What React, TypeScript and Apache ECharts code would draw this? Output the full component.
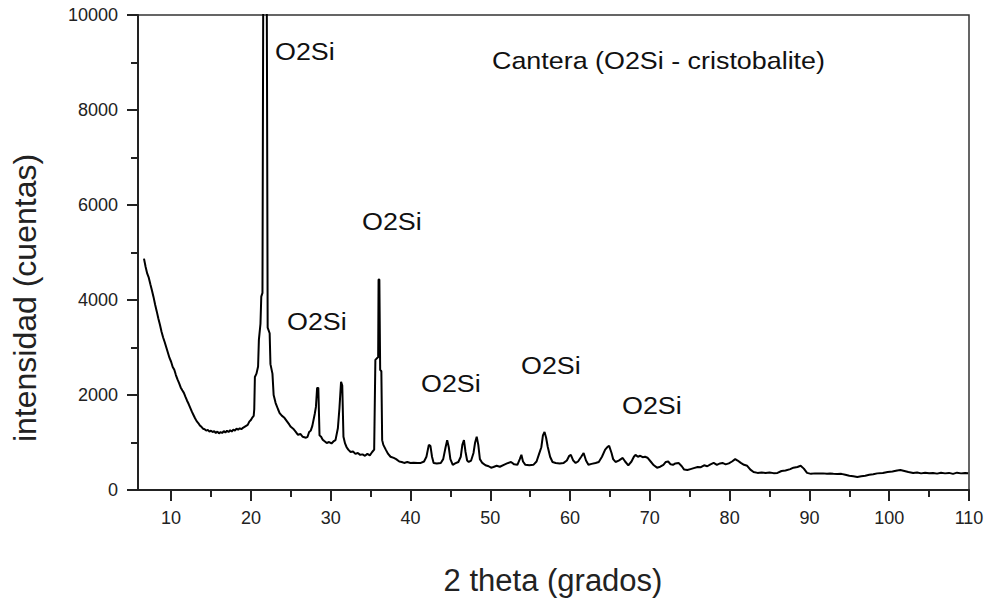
import React, { useEffect, useRef } from "react";
import * as echarts from "echarts";

const twoTheta: number[] = [
  6.6, 6.8, 7.0, 7.2, 7.4, 7.6, 7.8, 8.0, 8.2, 8.4, 8.6, 8.8, 9.0, 9.2, 9.4, 9.6, 9.8,
  10.0, 10.2, 10.4, 10.6, 10.8, 11.0, 11.2, 11.4, 11.6, 11.8, 12.0, 12.2, 12.4, 12.6, 12.8,
  13.0, 13.2, 13.4, 13.6, 13.8, 14.0, 14.2, 14.4, 14.6, 14.8, 15.0, 15.2, 15.4, 15.6, 15.8,
  16.0, 16.2, 16.4, 16.6, 16.8, 17.0, 17.2, 17.4, 17.6, 17.8, 18.0, 18.2, 18.4, 18.6, 18.8,
  19.0, 19.2, 19.4, 19.6, 19.8, 20.0, 20.2, 20.35, 20.42, 20.5, 20.7, 20.9, 21.0, 21.2, 21.3,
  21.45, 21.57, 21.75, 21.95, 22.02, 22.1, 22.35, 22.45, 22.7, 22.85, 23.1, 23.4, 23.6, 23.9,
  24.2, 24.5, 24.8, 25.0, 25.3, 25.6, 25.9, 26.2, 26.5, 26.9, 27.1, 27.3, 27.5, 27.7, 28.0,
  28.15, 28.3, 28.45, 28.6, 28.8, 29.0, 29.2, 29.5, 29.8, 30.1, 30.4, 30.6, 30.9, 31.1, 31.3,
  31.45, 31.6, 31.8, 32.0, 32.2, 32.5, 32.8, 33.1, 33.4, 33.7, 34.0, 34.3, 34.6, 34.9, 35.2,
  35.45, 35.6, 35.95, 36.0, 36.1, 36.2, 36.35, 36.45, 36.6, 36.9, 37.2, 37.5, 37.9, 38.2,
  38.6, 38.9, 39.2, 39.6, 40.0, 40.4, 40.9, 41.3, 41.7, 42.0, 42.3, 42.5, 42.7, 42.9, 43.3,
  43.8, 44.1, 44.4, 44.6, 44.8, 45.0, 45.3, 45.6, 46.0, 46.3, 46.5, 46.7, 46.9, 47.1, 47.3,
  47.6, 47.9, 48.1, 48.3, 48.5, 48.7, 49.0, 49.4, 49.8, 50.1, 50.4, 50.8, 51.2, 51.7, 52.1,
  52.6, 53.0, 53.4, 53.7, 53.9, 54.1, 54.4, 54.9, 55.4, 55.8, 56.1, 56.4, 56.6, 56.8, 57.0,
  57.2, 57.5, 57.8, 58.2, 58.7, 59.2, 59.6, 59.9, 60.1, 60.4, 60.7, 61.0, 61.4, 61.7, 62.0,
  62.3, 62.7, 63.2, 63.6, 64.0, 64.4, 64.7, 64.9, 65.2, 65.4, 65.7, 66.1, 66.6, 66.9, 67.3,
  67.7, 68.0, 68.2, 68.5, 68.8, 69.1, 69.4, 69.7, 70.1, 70.5, 70.9, 71.3, 71.7, 72.0, 72.3,
  72.6, 72.9, 73.2, 73.6, 74.0, 74.3, 74.7, 75.1, 75.5, 76.0, 76.4, 76.8, 77.2, 77.6, 78.0,
  78.4, 78.8, 79.1, 79.5, 79.9, 80.3, 80.7, 81.0, 81.4, 81.8, 82.2, 82.6, 83.0, 83.5, 84.0,
  84.5, 85.0, 85.5, 86.0, 86.5, 87.0, 87.6, 88.0, 88.5, 88.9, 89.3, 89.7, 90.2, 90.7, 91.2,
  91.7, 92.2, 92.6, 93.0, 93.5, 94.0, 94.5, 95.0, 95.5, 96.0, 96.5, 97.0, 97.5, 98.0, 98.5,
  99.2, 99.8, 100.4, 101.0, 101.4, 101.9, 102.4, 103.0, 103.5, 104.0, 104.5, 105.0, 105.5,
  106.0, 106.5, 107.0, 107.5, 108.0, 108.5, 109.0, 109.5, 109.9,
];

const intensity: number[] = [
  4870, 4700, 4560, 4470, 4330, 4200, 4060, 3900, 3760, 3610, 3480, 3330, 3210, 3110, 3000, 2890, 2780,
  2700, 2590, 2530, 2420, 2330, 2250, 2160, 2100, 2045, 1960, 1880, 1810, 1730, 1650, 1580,
  1510, 1450, 1410, 1360, 1330, 1290, 1280, 1250, 1265, 1230, 1250, 1220, 1240, 1200, 1230,
  1190, 1220, 1200, 1240, 1210, 1250, 1220, 1260, 1230, 1270, 1250, 1290, 1270, 1300, 1280,
  1310, 1330, 1350, 1370, 1440, 1475, 1530, 1560, 1700, 2380, 2450, 2600, 3160, 3500, 4070,
  4150, 12000, 16000, 12500, 8640, 3420, 3300, 2650, 2450, 2000, 1830, 1700, 1620, 1560,
  1520, 1450, 1380, 1330, 1290, 1230, 1160, 1180, 1120, 1100, 1120, 1220, 1250, 1350, 1600,
  1750, 2150, 2150, 1150, 1120, 1060, 1030, 990, 1010, 980, 1030, 1050, 1300, 1730, 2280,
  2200, 1120, 980, 900, 850, 800, 810, 760, 780, 740, 750, 720, 760, 730, 800,
  850, 2740, 2800, 4430, 4430, 2530, 2500, 1050, 950, 850, 760, 700, 675, 650,
  600, 590, 570, 590, 570, 575, 570, 570, 600, 700, 950, 930, 700, 570, 560,
  570, 650, 900, 1050, 900, 650, 530, 560, 590, 700, 950, 1050, 800, 620, 590,
  620, 780, 1000, 1120, 950, 650, 570, 520, 500, 470, 485, 510, 490, 530, 560,
  590, 540, 530, 650, 740, 600, 530, 520, 530, 600, 750, 900, 1150, 1220, 1100,
  910, 700, 590, 570, 560, 570, 620, 720, 740, 620, 570, 600, 700, 780, 620,
  530, 550, 570, 590, 700, 850, 910, 930, 780, 650, 590, 620, 675, 600, 520,
  600, 700, 740, 700, 720, 690, 700, 680, 600, 520, 470, 490, 530, 590, 600,
  540, 530, 560, 570, 500, 430, 420, 440, 460, 485, 480, 520, 500, 540, 570,
  530, 560, 570, 540, 560, 600, 650, 620, 570, 530, 510, 430, 380, 360, 370,
  360, 370, 355, 360, 400, 410, 440, 470, 485, 510, 450, 360, 340, 350, 345,
  350, 340, 345, 340, 335, 340, 320, 300, 290, 275, 290, 300, 320, 330, 350,
  360, 380, 390, 410, 420, 400, 380, 360, 370, 350, 365, 355, 360,
  345, 365, 350, 360, 340, 365, 350, 360, 355,
];

const majorTicks: number[] = [10, 20, 30, 40, 50, 60, 70, 80, 90, 100, 110];
const minorTicks: number[] = [15, 25, 35, 45, 55, 65, 75, 85, 95, 105];

const peakLabels: { text: string; x: number; y: number }[] = [
  { text: "O2Si", x: 275, y: 52 },
  { text: "O2Si", x: 287, y: 322 },
  { text: "O2Si", x: 362, y: 222 },
  { text: "O2Si", x: 421, y: 384 },
  { text: "O2Si", x: 521, y: 366 },
  { text: "O2Si", x: 622, y: 406 },
];
const sampleTitle = "Cantera (O2Si - cristobalite)";
const xTitle = "2 theta (grados)";
const yTitle = "intensidad (cuentas)";

const FONT = '"Liberation Sans", Arial, sans-serif';
const INK = "#222";

export default function App() {
  const ref = useRef<HTMLDivElement>(null);
  useEffect(() => {
    document.body.style.margin = "0";
    if (!ref.current) return;
    const chart = echarts.init(ref.current, null, { renderer: "svg" });
    const data = twoTheta.map((x, i) => [x, intensity[i]]);
    const tickStyle = { color: INK, width: 2 };
    const annot = peakLabels.map((p) => ({
      type: "text",
      x: p.x,
      y: p.y,
      scaleX: 1.12,
      style: {
        text: p.text,
        font: `24px ${FONT}`,
        fill: "#111",
        textAlign: "left",
        textVerticalAlign: "middle",
        align: "left",
        verticalAlign: "middle",
      },
    }));
    chart.setOption({
      animation: false,
      backgroundColor: "#fff",
      grid: {
        left: 138,
        right: 19,
        top: 15,
        bottom: 108,
        show: true,
        borderColor: "#333",
        borderWidth: 1.5,
        backgroundColor: "transparent",
      },
      xAxis: [
        {
          type: "value",
          min: 5.85,
          max: 110,
          axisLine: { show: true, lineStyle: { color: INK, width: 2 } },
          axisTick: { show: true, inside: false, length: 11, customValues: majorTicks, lineStyle: tickStyle },
          axisLabel: {
            customValues: majorTicks,
            fontSize: 18,
            fontFamily: FONT,
            color: INK,
            margin: 19,
            formatter: (v: number) => String(v),
          },
          splitLine: { show: false },
        },
        {
          type: "value",
          min: 5.85,
          max: 110,
          position: "bottom",
          axisLine: { show: false },
          axisTick: { show: true, inside: false, length: 7, customValues: minorTicks, lineStyle: tickStyle },
          axisLabel: { show: false },
          splitLine: { show: false },
        },
      ],
      yAxis: {
        type: "value",
        min: 0,
        max: 10000,
        interval: 2000,
        axisLine: { show: true, lineStyle: { color: INK, width: 2 } },
        axisTick: { show: true, inside: false, length: 11, lineStyle: tickStyle },
        minorTick: { show: true, splitNumber: 2, length: 7, lineStyle: tickStyle },
        axisLabel: {
          fontSize: 18,
          fontFamily: FONT,
          color: INK,
          margin: 20,
          formatter: (v: number) => String(v),
        },
        splitLine: { show: false },
        minorSplitLine: { show: false },
      },
      series: [
        {
          type: "line",
          data,
          showSymbol: false,
          symbol: "none",
          clip: true,
          lineStyle: { color: "#000", width: 2 },
          emphasis: { disabled: true },
        },
      ],
      graphic: [
        ...annot,
        {
          type: "text",
          x: 492,
          y: 61,
          scaleX: 1.12,
          style: {
            text: sampleTitle,
            font: `24px ${FONT}`,
            fill: "#111",
            textAlign: "left",
            textVerticalAlign: "middle",
            align: "left",
            verticalAlign: "middle",
          },
        },
        {
          type: "text",
          x: 553,
          y: 580,
          style: {
            text: xTitle,
            font: `31px ${FONT}`,
            fill: INK,
            textAlign: "center",
            textVerticalAlign: "middle",
            align: "center",
            verticalAlign: "middle",
          },
        },
        {
          type: "text",
          x: 25,
          y: 298,
          rotation: Math.PI / 2,
          style: {
            text: yTitle,
            font: `32px ${FONT}`,
            fill: INK,
            textAlign: "center",
            textVerticalAlign: "middle",
            align: "center",
            verticalAlign: "middle",
          },
        },
      ],
    });
    return () => chart.dispose();
  }, []);
  return <div ref={ref} style={{ width: 988, height: 598 }} />;
}
